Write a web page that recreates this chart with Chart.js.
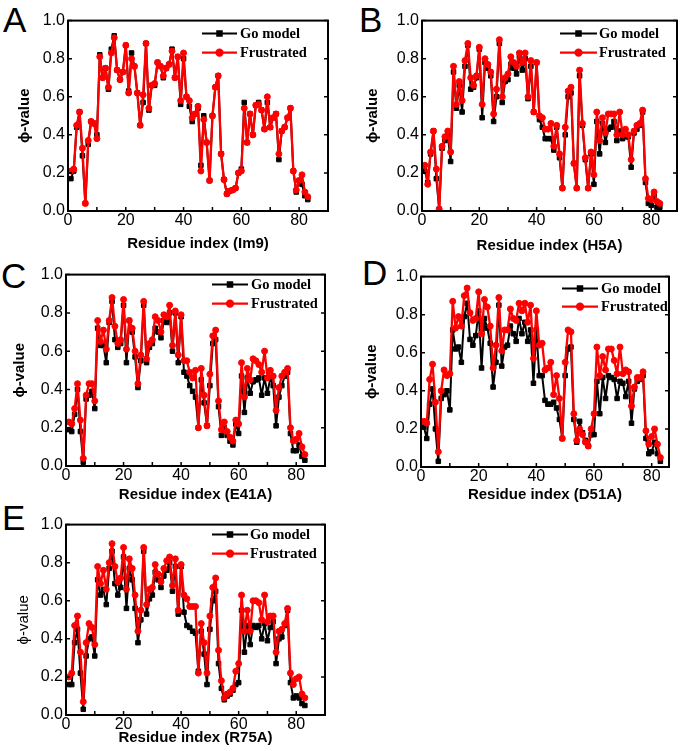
<!DOCTYPE html>
<html>
<head>
<meta charset="utf-8">
<script src="https://cdn.jsdelivr.net/npm/chart.js@4.4.0/dist/chart.umd.min.js"></script>
<style>
  body { margin: 0; background: #fff; }
  #wrap { position: relative; width: 686px; height: 751px; overflow: hidden; }
  canvas { position: absolute; }
  .letter { position: absolute; font: 35px/35px "Liberation Sans", Arial, sans-serif; color: #000; }
</style>
</head>
<body>
<div id="wrap">
  <div class="letter" style="left:3px;top:2px">A</div>
  <div class="letter" style="left:359px;top:2px">B</div>
  <div class="letter" style="left:1px;top:258px">C</div>
  <div class="letter" style="left:362px;top:255px">D</div>
  <div class="letter" style="left:2px;top:500px">E</div>
  <canvas id="cA"></canvas>
  <canvas id="cB"></canvas>
  <canvas id="cC"></canvas>
  <canvas id="cD"></canvas>
  <canvas id="cE"></canvas>
</div>
<script>
// residue numbers (x values)
const residues = [1, 2, 3, 4, 5, 6, 7, 8, 9, 10, 11, 12, 13, 14, 15, 16, 17, 18, 19, 20,
  21, 22, 23, 24, 25, 26, 27, 28, 29, 30, 31, 32, 33, 34, 35, 36, 37, 38, 39, 40,
  41, 42, 43, 44, 45, 46, 47, 48, 49, 50, 51, 52, 53, 54, 55, 56, 57, 58, 59, 60,
  61, 62, 63, 64, 65, 66, 67, 68, 69, 70, 71, 72, 73, 74, 75, 76, 77, 78, 79, 80,
  81, 82, 83];

const xTicks = [0, 20, 40, 60, 80];
const xMinorTicks = [10, 20, 30, 40, 50, 60, 70, 80];
const yTicks = [0, 0.2, 0.4, 0.6, 0.8, 1.0];
const seriesNames = ["Go model", "Frustrated"];

// A (Im9)
const goA = [0.17, 0.21, 0.44, 0.52, 0.29, 0.04, 0.35, 0.47, 0.46, 0.40,
  0.82, 0.70, 0.75, 0.64, 0.85, 0.92, 0.74, 0.69, 0.73, 0.87,
  0.63, 0.83, 0.76, 0.62, 0.45, 0.57, 0.88, 0.53, 0.66, 0.66,
  0.78, 0.76, 0.70, 0.75, 0.77, 0.85, 0.70, 0.81, 0.56, 0.80,
  0.60, 0.55, 0.47, 0.51, 0.54, 0.24, 0.50, 0.36, 0.16, 0.50,
  0.65, 0.71, 0.30, 0.165, 0.09, 0.105, 0.11, 0.12, 0.20, 0.22,
  0.57, 0.36, 0.51, 0.40, 0.555, 0.57, 0.53, 0.43, 0.57, 0.44,
  0.49, 0.51, 0.27, 0.42, 0.44, 0.49, 0.54, 0.21, 0.10, 0.16,
  0.14, 0.08, 0.06];
const frA = [0.21, 0.22, 0.45, 0.52, 0.33, 0.04, 0.37, 0.47, 0.46, 0.38,
  0.81, 0.70, 0.75, 0.65, 0.83, 0.91, 0.74, 0.69, 0.73, 0.87,
  0.62, 0.80, 0.76, 0.62, 0.45, 0.61, 0.88, 0.54, 0.66, 0.67,
  0.78, 0.76, 0.71, 0.75, 0.77, 0.84, 0.70, 0.81, 0.58, 0.83,
  0.60, 0.58, 0.49, 0.51, 0.55, 0.21, 0.48, 0.36, 0.16, 0.50,
  0.65, 0.71, 0.30, 0.165, 0.09, 0.105, 0.11, 0.12, 0.20, 0.21,
  0.54, 0.36, 0.51, 0.40, 0.555, 0.56, 0.53, 0.43, 0.60, 0.44,
  0.49, 0.51, 0.30, 0.42, 0.44, 0.49, 0.54, 0.21, 0.11, 0.16,
  0.19, 0.10, 0.075];

// B (H5A)
const goB = [0.21, 0.15, 0.30, 0.42, 0.17, 0.01, 0.33, 0.37, 0.40, 0.26,
  0.73, 0.54, 0.66, 0.52, 0.76, 0.87, 0.64, 0.65, 0.70, 0.85,
  0.49, 0.78, 0.75, 0.71, 0.47, 0.60, 0.88, 0.57, 0.68, 0.69,
  0.77, 0.75, 0.72, 0.81, 0.74, 0.80, 0.59, 0.76, 0.52, 0.78,
  0.48, 0.44, 0.38, 0.38, 0.38, 0.32, 0.44, 0.28, 0.12, 0.40,
  0.60, 0.62, 0.25, 0.12, 0.71, 0.45, 0.27, 0.12, 0.30, 0.14,
  0.47, 0.30, 0.46, 0.36, 0.43, 0.44, 0.47, 0.37, 0.42, 0.38,
  0.39, 0.39, 0.23, 0.41, 0.43, 0.45, 0.52, 0.15, 0.04, 0.03,
  0.08, 0.02, 0.02];
const frB = [0.24, 0.14, 0.31, 0.42, 0.22, 0.01, 0.34, 0.39, 0.42, 0.31,
  0.76, 0.56, 0.68, 0.58, 0.79, 0.88, 0.70, 0.66, 0.71, 0.86,
  0.56, 0.80, 0.77, 0.73, 0.51, 0.64, 0.90, 0.60, 0.70, 0.72,
  0.81, 0.78, 0.76, 0.83, 0.78, 0.83, 0.60, 0.79, 0.52, 0.78,
  0.50, 0.49, 0.43, 0.43, 0.46, 0.34, 0.45, 0.30, 0.12, 0.44,
  0.63, 0.65, 0.25, 0.12, 0.74, 0.46, 0.28, 0.12, 0.31, 0.19,
  0.52, 0.37, 0.49, 0.41, 0.51, 0.51, 0.51, 0.40, 0.52, 0.40,
  0.43, 0.40, 0.27, 0.42, 0.45, 0.46, 0.53, 0.17, 0.066, 0.06,
  0.10, 0.05, 0.04];

// C (E41A)
const goC = [0.19, 0.18, 0.27, 0.40, 0.18, 0.02, 0.35, 0.37, 0.39, 0.30,
  0.72, 0.63, 0.63, 0.54, 0.75, 0.86, 0.66, 0.62, 0.64, 0.84,
  0.54, 0.76, 0.70, 0.57, 0.41, 0.55, 0.84, 0.54, 0.62, 0.64,
  0.72, 0.70, 0.67, 0.76, 0.75, 0.80, 0.60, 0.80, 0.54, 0.78,
  0.49, 0.47, 0.42, 0.39, 0.36, 0.20, 0.45, 0.33, 0.21, 0.42,
  0.64, 0.66, 0.31, 0.16, 0.20, 0.16, 0.13, 0.11, 0.22, 0.17,
  0.47, 0.28, 0.46, 0.38, 0.44, 0.45, 0.46, 0.37, 0.46, 0.38,
  0.46, 0.42, 0.21, 0.36, 0.42, 0.47, 0.49, 0.17, 0.08, 0.08,
  0.11, 0.05, 0.03];
const frC = [0.23, 0.22, 0.30, 0.43, 0.24, 0.04, 0.37, 0.43, 0.43, 0.34,
  0.76, 0.65, 0.71, 0.61, 0.76, 0.88, 0.73, 0.64, 0.66, 0.87,
  0.61, 0.76, 0.72, 0.60, 0.43, 0.58, 0.86, 0.56, 0.64, 0.66,
  0.78, 0.76, 0.70, 0.79, 0.78, 0.84, 0.63, 0.81, 0.58, 0.79,
  0.55, 0.55, 0.49, 0.46, 0.50, 0.20, 0.51, 0.37, 0.21, 0.48,
  0.68, 0.71, 0.34, 0.19, 0.23, 0.18, 0.15, 0.13, 0.24, 0.22,
  0.54, 0.36, 0.51, 0.45, 0.56, 0.55, 0.53, 0.49, 0.60, 0.46,
  0.50, 0.47, 0.29, 0.41, 0.47, 0.49, 0.51, 0.20, 0.13, 0.14,
  0.17, 0.10, 0.06];

// D (D51A)
const goD = [0.21, 0.15, 0.33, 0.41, 0.20, 0.03, 0.36, 0.38, 0.40, 0.30,
  0.72, 0.62, 0.63, 0.55, 0.79, 0.86, 0.67, 0.64, 0.69, 0.82,
  0.52, 0.78, 0.73, 0.65, 0.42, 0.55, 0.85, 0.53, 0.63, 0.64,
  0.74, 0.70, 0.66, 0.78, 0.70, 0.76, 0.66, 0.72, 0.44, 0.72,
  0.48, 0.48, 0.35, 0.33, 0.33, 0.34, 0.31, 0.25, 0.15, 0.48,
  0.62, 0.63, 0.25, 0.13, 0.24, 0.18, 0.14, 0.11, 0.17, 0.17,
  0.45, 0.28, 0.47, 0.36, 0.48, 0.47, 0.46, 0.36, 0.45, 0.44,
  0.37, 0.45, 0.23, 0.41, 0.45, 0.46, 0.48, 0.15, 0.07, 0.08,
  0.13, 0.07, 0.03];
const frD = [0.24, 0.23, 0.46, 0.54, 0.34, 0.08, 0.40, 0.51, 0.48, 0.49,
  0.87, 0.73, 0.79, 0.74, 0.90, 0.94, 0.81, 0.77, 0.78, 0.92,
  0.70, 0.88, 0.84, 0.74, 0.52, 0.64, 0.89, 0.61, 0.72, 0.72,
  0.83, 0.78, 0.77, 0.86, 0.82, 0.86, 0.76, 0.85, 0.57, 0.82,
  0.64, 0.65, 0.51, 0.52, 0.55, 0.38, 0.48, 0.36, 0.15, 0.55,
  0.72, 0.71, 0.28, 0.14, 0.20, 0.17, 0.13, 0.11, 0.20, 0.28,
  0.63, 0.48, 0.58, 0.51, 0.62, 0.62, 0.56, 0.49, 0.63, 0.49,
  0.51, 0.50, 0.32, 0.42, 0.47, 0.47, 0.50, 0.19, 0.12, 0.16,
  0.20, 0.12, 0.05];

// E (R75A)
const goE = [0.16, 0.16, 0.38, 0.45, 0.22, 0.03, 0.31, 0.40, 0.41, 0.31,
  0.71, 0.63, 0.66, 0.58, 0.77, 0.86, 0.69, 0.63, 0.67, 0.83,
  0.56, 0.77, 0.71, 0.56, 0.38, 0.50, 0.86, 0.53, 0.61, 0.63,
  0.75, 0.71, 0.67, 0.73, 0.76, 0.80, 0.65, 0.78, 0.53, 0.78,
  0.54, 0.47, 0.46, 0.44, 0.43, 0.23, 0.44, 0.32, 0.16, 0.45,
  0.60, 0.65, 0.27, 0.14, 0.08, 0.10, 0.11, 0.13, 0.16, 0.17,
  0.55, 0.33, 0.47, 0.37, 0.47, 0.46, 0.47, 0.40, 0.48, 0.39,
  0.46, 0.49, 0.27, 0.40, 0.41, 0.47, 0.55, 0.17, 0.09, 0.10,
  0.09, 0.06, 0.05];
const frE = [0.20, 0.22, 0.47, 0.52, 0.33, 0.07, 0.38, 0.48, 0.46, 0.37,
  0.78, 0.69, 0.76, 0.66, 0.80, 0.90, 0.78, 0.70, 0.72, 0.88,
  0.66, 0.82, 0.77, 0.63, 0.44, 0.55, 0.88, 0.58, 0.66, 0.67,
  0.79, 0.74, 0.70, 0.77, 0.81, 0.83, 0.68, 0.82, 0.55, 0.79,
  0.63, 0.61, 0.57, 0.57, 0.57, 0.22, 0.48, 0.38, 0.22, 0.52,
  0.67, 0.72, 0.34, 0.18, 0.09, 0.11, 0.12, 0.14, 0.23, 0.27,
  0.63, 0.44, 0.55, 0.44, 0.60, 0.60, 0.59, 0.50, 0.63, 0.49,
  0.52, 0.52, 0.33, 0.44, 0.45, 0.48, 0.56, 0.22, 0.16, 0.19,
  0.20, 0.11, 0.09];

const YW = 62, XH = 44, PT = 12, PR = 6;
const SANS = '"Liberation Sans", Arial, sans-serif';

// frame, inward ticks and the in-plot legend
const framePlugin = {
  id: 'frame',
  afterDraw(chart, args, opts) {
    const { ctx, chartArea: a, scales: { x, y } } = chart;
    ctx.save();
    ctx.strokeStyle = '#000';
    ctx.lineWidth = 1.5;
    ctx.beginPath();
    xMinorTicks.forEach(v => {
      if (v >= x.max) return;
      const px = x.getPixelForValue(v);
      ctx.moveTo(px, a.bottom); ctx.lineTo(px, a.bottom - 4);
    });
    yTicks.forEach(v => {
      const py = y.getPixelForValue(v);
      ctx.moveTo(a.left, py); ctx.lineTo(a.left + 4, py);
      ctx.moveTo(a.right, py); ctx.lineTo(a.right - 4, py);
    });
    ctx.stroke();
    ctx.lineWidth = 2;
    ctx.strokeRect(a.left, a.top, a.width, a.height);

    // legend
    ctx.font = 'bold 14.5px "Liberation Serif", "Times New Roman", serif';
    ctx.textBaseline = 'middle';
    chart.data.datasets.forEach((ds, k) => {
      const yy = a.top + opts.rows[k];
      const x0 = a.right - opts.start, x1 = a.right - opts.end;
      ctx.strokeStyle = ds.borderColor;
      ctx.fillStyle = ds.backgroundColor;
      ctx.lineWidth = ds.borderWidth;
      ctx.beginPath(); ctx.moveTo(x0, yy); ctx.lineTo(x1, yy); ctx.stroke();
      Chart.helpers.drawPoint(ctx, { pointStyle: ds.pointStyle, radius: ds.pointRadius, borderWidth: 1, rotation: 0 }, (x0 + x1) / 2, yy);
      ctx.fillStyle = '#000';
      ctx.fillText(ds.label, a.right - opts.text, yy + 1);
    });
    ctx.restore();
  }
};

function makePanel(id, box, goVals, frVals, xMax, xTitle, opt) {
  const cv = document.getElementById(id);
  const w = box.r - box.l + YW + PR;
  const h = box.b - box.t + PT + XH;
  cv.width = w; cv.height = h;
  cv.style.left = (box.l - YW) + 'px';
  cv.style.top = (box.t - PT) + 'px';
  cv.style.width = w + 'px'; cv.style.height = h + 'px';

  return new Chart(cv, {
    type: 'line',
    data: {
      datasets: [{
        label: seriesNames[0],
        data: residues.map((r, i) => ({ x: r, y: goVals[i] })),
        borderColor: '#000', backgroundColor: '#000',
        borderWidth: 2, borderJoinStyle: 'round',
        pointStyle: 'rect', pointRadius: 3.2, pointBorderWidth: 1, order: 1
      }, {
        label: seriesNames[1],
        data: residues.map((r, i) => ({ x: r, y: frVals[i] })),
        borderColor: '#ff0000', backgroundColor: '#ff0000',
        borderWidth: 2.3, borderJoinStyle: 'round',
        pointStyle: 'circle', pointRadius: 3, pointBorderWidth: 1, order: 0
      }]
    },
    options: {
      responsive: false,
      animation: false,
      layout: { padding: { top: PT, right: PR, left: 0, bottom: 0 } },
      plugins: {
        legend: { display: false },
        tooltip: { enabled: false },
        frame: opt.legend
      },
      scales: {
        x: {
          type: 'linear', min: 0, max: xMax,
          grid: { display: false, drawTicks: false },
          border: { display: false },
          afterBuildTicks: s => { s.ticks = xTicks.map(v => ({ value: v })); },
          afterFit: s => { s.height = XH; },
          ticks: { color: '#000', font: { family: SANS, size: 16 }, padding: 0, maxRotation: 0, autoSkip: false },
          title: {
            display: true, text: xTitle, color: '#000',
            font: { family: SANS, size: 15, weight: 'bold', lineHeight: 1.2 },
            padding: { top: 0, bottom: XH - opt.xTitleOff - 9 }
          }
        },
        y: {
          min: 0, max: 1,
          grid: { display: false, drawTicks: false },
          border: { display: false },
          afterBuildTicks: s => { s.ticks = yTicks.map(v => ({ value: v })); },
          afterFit: s => { s.width = YW; },
          ticks: { color: '#000', font: { family: SANS, size: 16 }, padding: 3, callback: v => v.toFixed(1) },
          title: {
            display: true, text: 'ϕ-value', color: '#000',
            font: { family: SANS, size: 15, weight: opt.yBold ? 'bold' : 'normal', lineHeight: 1.2 },
            padding: { top: YW - opt.yTitleOff - 9, bottom: 0 }
          }
        }
      }
    },
    plugins: [framePlugin]
  });
}

makePanel('cA', { l: 68, t: 20, r: 328, b: 211 }, goA, frA, 90, 'Residue index (Im9)',
  { xTitleOff: 33, yTitleOff: 43, yBold: true, legend: { start: 126, end: 91, text: 88, rows: [13, 32] } });
makePanel('cB', { l: 422, t: 20, r: 677, b: 211 }, goB, frB, 89, 'Residue index (H5A)',
  { xTitleOff: 35, yTitleOff: 49, yBold: true, legend: { start: 117, end: 80, text: 78, rows: [13, 32] } });
makePanel('cC', { l: 66, t: 274, r: 325, b: 466 }, goC, frC, 90, 'Residue index (E41A)',
  { xTitleOff: 29, yTitleOff: 46, yBold: true, legend: { start: 113, end: 77, text: 74, rows: [10, 29] } });
makePanel('cD', { l: 421, t: 276, r: 669, b: 467 }, goD, frD, 86, 'Residue index (D51A)',
  { xTitleOff: 28, yTitleOff: 49, yBold: true, legend: { start: 107, end: 71, text: 68, rows: [12, 30] } });
makePanel('cE', { l: 66, t: 524, r: 325, b: 715 }, goE, frE, 90, 'Residue index (R75A)',
  { xTitleOff: 23, yTitleOff: 42, yBold: false, legend: { start: 113, end: 77, text: 75, rows: [10, 29] } });
</script>
</body>
</html>
